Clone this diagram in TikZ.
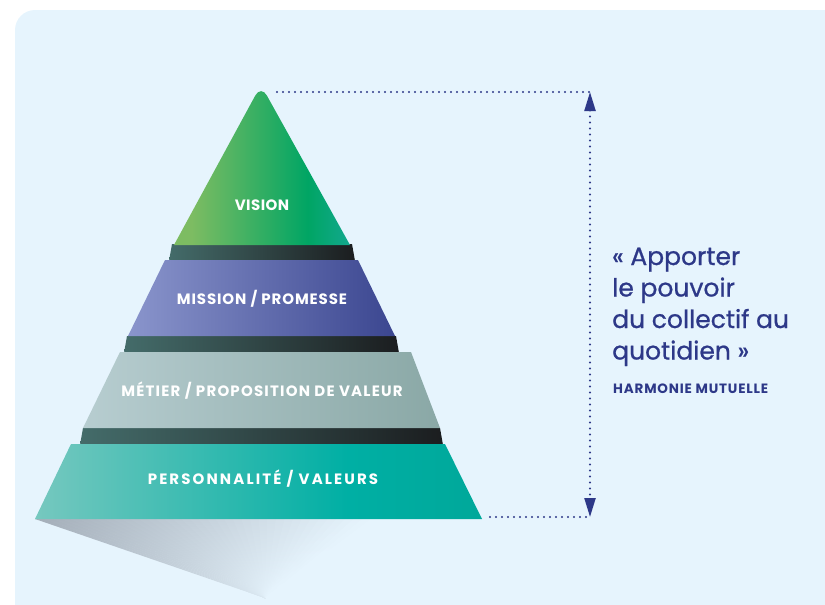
\documentclass[tikz,border=0pt]{standalone}
\usepackage{fontspec}
\setmainfont{Poppins}
\newfontfamily\quotefont[FakeBold=0.8]{Poppins}
\newfontfamily\tagfont[LetterSpace=3]{Poppins}
\newfontfamily\tagmidfont[LetterSpace=6]{Poppins}
\newfontfamily\tagmetfont[LetterSpace=8]{Poppins}
\newfontfamily\tagwidefont[LetterSpace=14]{Poppins}
\newfontfamily\authorfont[LetterSpace=6]{Poppins}
\usetikzlibrary{arrows.meta}

\definecolor{panel}{HTML}{E6F4FD}
\definecolor{navy}{HTML}{2D3888}
\definecolor{visA}{HTML}{7DBC62}
\definecolor{visB}{HTML}{00A564}
\definecolor{visC}{HTML}{12A88E}
\definecolor{misA}{HTML}{8A95CC}
\definecolor{misB}{HTML}{3B4690}
\definecolor{metA}{HTML}{B7CDD0}
\definecolor{metB}{HTML}{8AA8A6}
\definecolor{perA}{HTML}{76C8BF}
\definecolor{perB}{HTML}{00AFA4}
\definecolor{perC}{HTML}{00A89A}
\definecolor{bandA}{HTML}{446C6A}
\definecolor{bandB}{HTML}{1B1D1F}
\definecolor{shadowA}{HTML}{A5AFBA}

% horizontal colour ramps for the pyramid layers (25bp..75bp spans the shape)
\pgfdeclarehorizontalshading{visionsh}{100bp}{color(0bp)=(visA); color(30bp)=(visA); color(63bp)=(visB); color(75bp)=(visC); color(100bp)=(visC)}
\pgfdeclarehorizontalshading{missionsh}{100bp}{color(0bp)=(misA); color(25bp)=(misA); color(75bp)=(misB); color(100bp)=(misB)}
\pgfdeclarehorizontalshading{metiersh}{100bp}{color(0bp)=(metA); color(25bp)=(metA); color(75bp)=(metB); color(100bp)=(metB)}
\pgfdeclarehorizontalshading{persosh}{100bp}{color(0bp)=(perA); color(25bp)=(perA); color(60bp)=(perB); color(75bp)=(perC); color(100bp)=(perC)}
\pgfdeclarehorizontalshading{bandsh}{100bp}{color(0bp)=(bandA); color(25bp)=(bandA); color(75bp)=(bandB); color(100bp)=(bandB)}

\tikzset{
  layerlabel/.style={text=white, font=\tagmidfont\bfseries\fontsize{15}{18}\selectfont, inner sep=0pt},
  guide/.style={navy, line width=2.2pt, line cap=round, dash pattern=on 0pt off 6pt},
  quoteline/.style={text=navy, inner sep=0pt, anchor=base west,
    font=\quotefont\fontsize{25}{31}\selectfont},
}

\begin{document}
\begin{tikzpicture}[x=1pt, y=-1pt]
\useasboundingbox (0,0) rectangle (825,605);

% light panel behind everything
\fill[panel, rounded corners=20pt] (15,10) rectangle (870,640);

% soft shadow under the base: thin wedges fanning out from the lower tip,
% darkest along the left edge and fading to the right and towards the tip
\coordinate (shadowtip) at (265,598);
\foreach \i in {0,...,39} {
  \pgfmathsetmacro{\xa}{35+\i*8.6}
  \pgfmathsetmacro{\xb}{\xa+10}
  \pgfmathsetmacro{\pa}{min(100,\i*2.6)}
  \pgfmathsetmacro{\pb}{min(100,80+\i*0.6)}
  \shade[top color=panel!\pa!shadowA, bottom color=panel!\pb!shadowA]
    (shadowtip) -- (\xa,519) -- (\xb,519) -- cycle;
}

% dark steps between the layers
\shade[shading=bandsh] (172,244) -- (352,244) -- (355,261) -- (169,261) -- cycle;
\shade[shading=bandsh] (127,336) -- (396,336) -- (399,353) -- (124,353) -- cycle;
\shade[shading=bandsh] (83,428) -- (440,428) -- (443,445) -- (80,445) -- cycle;

% pyramid layers
\shade[shading=visionsh] (174,245) [rounded corners=12pt] -- (261,85) [sharp corners] -- (350,245) -- cycle;
\shade[shading=missionsh] (165,260) -- (358,260) -- (395,336) -- (128,336) -- cycle;
\shade[shading=metiersh] (120,352) -- (411,352) -- (440,428) -- (83,428) -- cycle;
\shade[shading=persosh] (71,444) -- (445,444) -- (482,519) -- (35,519) -- cycle;

% layer labels
\node[layerlabel, font=\tagfont\bfseries\fontsize{15}{18}\selectfont] (vision) at (262,205) {VISION};
\node[layerlabel] (mission) at (262,299) {MISSION / PROMESSE};
\node[layerlabel, font=\tagmetfont\bfseries\fontsize{15}{18}\selectfont] (metier) at (262,391) {MÉTIER / PROPOSITION DE VALEUR};
\node[layerlabel, font=\tagwidefont\bfseries\fontsize{15}{18}\selectfont] (perso) at (263,479) {PERSONNALITÉ / VALEURS};

% height marker
\coordinate (apexR) at (277,92);
\coordinate (topR) at (590,92);
\coordinate (baseR) at (490,517);
\coordinate (botR) at (590,517);
\draw[guide] (apexR) -- (topR);
\draw[guide] (baseR) -- (botR);
\draw[guide, {Triangle[width=11pt,length=19pt]}-{Triangle[width=11pt,length=19pt]}] (topR) -- (botR);

% quote
\node[quoteline] (q1) at (612,265) {« Apporter};
\node[quoteline] (q2) at (612,296.5) {le pouvoir};
\node[quoteline] (q3) at (612,328) {du collectif au};
\node[quoteline] (q4) at (612,359.5) {quotidien »};
\node[text=navy, anchor=base west, inner sep=0pt, font=\authorfont\bfseries\fontsize{13.5}{16}\selectfont] (author) at (613,393) {HARMONIE MUTUELLE};
\end{tikzpicture}
\end{document}
